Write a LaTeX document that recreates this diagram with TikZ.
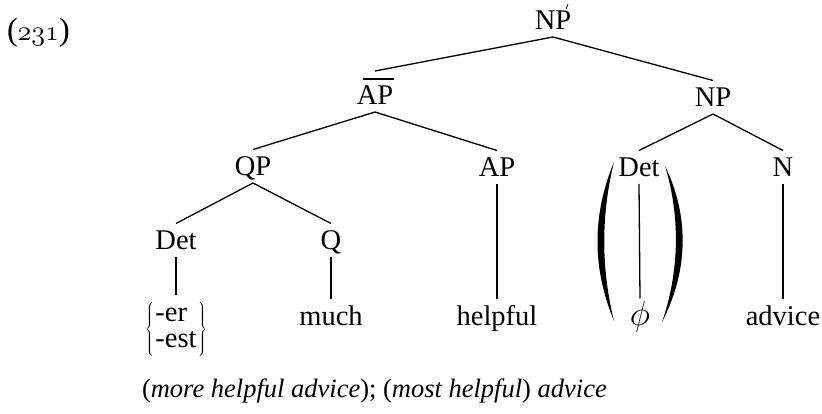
\documentclass[tikz,border=0pt]{standalone}
\usepackage{graphicx}
\usepackage{fontspec}
\setmainfont{Liberation Serif}
\begin{document}
\begin{tikzpicture}[x=1pt,y=-1pt,
  every node/.style={inner sep=0pt, outer sep=7pt, font=\fontsize{28.5}{26}\selectfont},
  cat/.style={anchor=base, text height=19.5pt, text depth=0pt},
  leaf/.style={anchor=base, text height=19.5pt, text depth=0pt},
  edge/.style={line width=1.3pt},
]
\useasboundingbox (0,0) rectangle (822,414);

\node[anchor=base west, outer sep=0pt] (num) at (7,41) {\scalebox{1.13}{({\usefont{OML}{cmm}{m}{it}231})}};

% categories
\node[cat] (np0) at (553,30) {NP};
\node[cat, text height=27pt] (apb) at (375,105) {AP};
\node[cat] (np1) at (713,107) {NP};
\node[cat] (qp) at (253,176) {QP};
\node[cat] (ap) at (497,177) {AP};
\node[cat] (detr) at (639,177) {Det};
\node[cat] (n) at (783,177) {N};
\node[cat] (detl) at (176,250) {Det};
\node[cat] (q) at (331,250) {Q};

% leaves
\node[anchor=north] (br) at (176,295)
  {$\left\{\vcenter{\hbox{\renewcommand{\arraystretch}{1.02}\begin{tabular}{@{\hspace{1.5pt}}l@{\hspace{1.5pt}}}-er\\-est\end{tabular}}}\right\}$};
\node[leaf] (much) at (331,325) {much};
\node[leaf] (helpful) at (497,325) {helpful};
\node[leaf] (phi) at (640,325) {\scalebox{1.4}{$\phi$}};
\node[leaf] (advice) at (783,325) {advice};

% bar over AP and prime on NP
\draw[edge] ([xshift=-12pt,yshift=26pt]apb.base) -- ([xshift=19pt,yshift=26pt]apb.base);
\draw[line width=0.8pt] ([xshift=13pt,yshift=21pt]np0.base) -- ([xshift=15pt,yshift=26pt]np0.base);

% edges
\draw[edge] (np0.south) -- (apb.north);
\draw[edge] (np0.south) -- (np1.north);
\draw[edge] (apb.south) -- (qp.north);
\draw[edge] (apb.south) -- (ap.north);
\draw[edge] (np1.south) -- (detr.north);
\draw[edge] (np1.south) -- (n.north);
\draw[edge] (qp.south) -- (detl.north);
\draw[edge] (qp.south) -- (q.north);
\draw[edge] (detl.south) -- (br.north);
\draw[edge] (q.south) -- (much.north);
\draw[edge] (ap.south) -- (helpful.north);
\draw[edge] (detr.south) -- (phi.north);
\draw[edge] (n.south) -- (advice.north);

% big parentheses
\fill (614,162) .. controls (592,215) and (592,268) .. (614,321)
      .. controls (601,268) and (601,215) .. (614,162) -- cycle;
\fill (665,166) .. controls (689,215) and (689,270) .. (662,322)
      .. controls (680,270) and (680,215) .. (665,166) -- cycle;

% caption
\node[anchor=base west, outer sep=0pt, font=\fontsize{26.5}{30}\selectfont\itshape] (cap) at (142,397)
  {\textup{(}more helpful advice\textup{);} \textup{(}most helpful\textup{)} advice};
\end{tikzpicture}
\end{document}
